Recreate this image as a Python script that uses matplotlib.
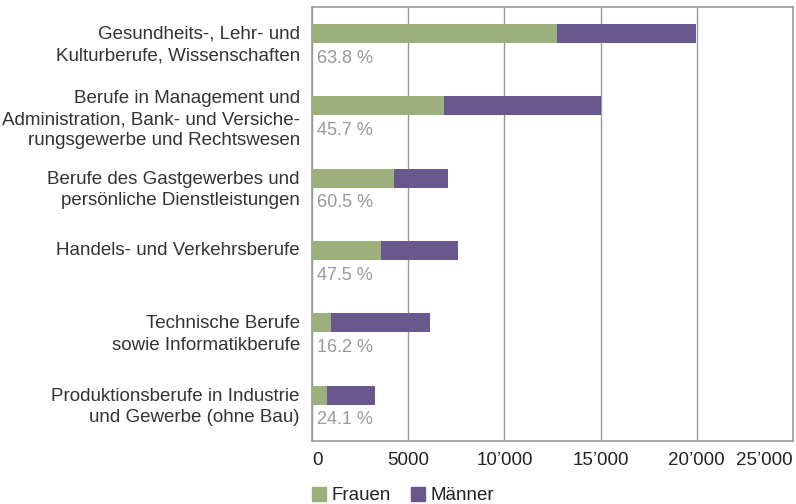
import matplotlib
matplotlib.use('Agg')
import matplotlib.pyplot as plt
from matplotlib.patches import Patch

# Daten
kategorien = ['Gesundheits-, Lehr- und\nKulturberufe, Wissenschaften',
              'Berufe in Management und\nAdministration, Bank- und Versiche-\nrungsgewerbe und Rechtswesen',
              'Berufe des Gastgewerbes und\npersönliche Dienstleistungen',
              'Handels- und Verkehrsberufe',
              'Technische Berufe\nsowie Informatikberufe',
              'Produktionsberufe in Industrie\nund Gewerbe (ohne Bau)']
frauen = [12750, 6860, 4260, 3590, 990, 780]
maenner = [7240, 8150, 2800, 3990, 5130, 2480]
anteil_frauen = ['63.8 %', '45.7 %', '60.5 %', '47.5 %', '16.2 %', '24.1 %']
xticks = [0, 5000, 10000, 15000, 20000, 25000]
xticklabels = ['0', '5000', '10\u2019000', '15\u2019000', '20\u2019000', '25\u2019000']

gruen = '#9daf7c'
violett = '#68588c'

plt.rcParams['font.family'] = ['Liberation Sans', 'DejaVu Sans']

fig = plt.figure(figsize=(7.96, 5.04), dpi=100)
ax = fig.add_axes([0.3924, 0.1256, 0.6034, 0.8611])

n = len(kategorien)
ypos = [i + 0.37 for i in range(n)]   # balkenmitte im slot
ax.barh(ypos, frauen, height=0.26, color=gruen, zorder=3)
ax.barh(ypos, maenner, left=frauen, height=0.26, color=violett, zorder=3)

for i in range(n):
    ax.text(230, ypos[i] + 0.34, anteil_frauen[i], color='#999999', fontsize=13,
            va='center', ha='left')
    nz = kategorien[i].count('\n') + 1
    yl = min(ypos[i] + (nz - 1) * 0.16, i + 0.56)
    ax.text(-650, yl, kategorien[i], ha='right', va='center', fontsize=13.5,
            color='#333333', linespacing=1.33)

ax.set_ylim(n, 0)
ax.set_xlim(0, 25000)
ax.set_yticks([])
ax.set_xticks(xticks)
ax.set_xticklabels(xticklabels, fontsize=13.5, color='#222222')
lbls = ax.get_xticklabels()
lbls[0].set_ha('left')
lbls[-1].set_ha('right')
ax.tick_params(axis='x', length=0, pad=8)
ax.grid(axis='x', color='#999999', linewidth=1, zorder=0)
for s in ax.spines.values():
    s.set_color('#999999')
    s.set_linewidth(1.2)

ax.legend(handles=[Patch(color=gruen, label='Frauen'), Patch(color=violett, label='Männer')],
          loc='upper left', bbox_to_anchor=(-0.029, -0.076), ncol=2, frameon=False,
          fontsize=13.5, handlelength=0.75, handleheight=0.75, handletextpad=0.3,
          columnspacing=1.1, labelcolor='#222222', borderpad=0.2)

plt.savefig('out.png', dpi=100)
